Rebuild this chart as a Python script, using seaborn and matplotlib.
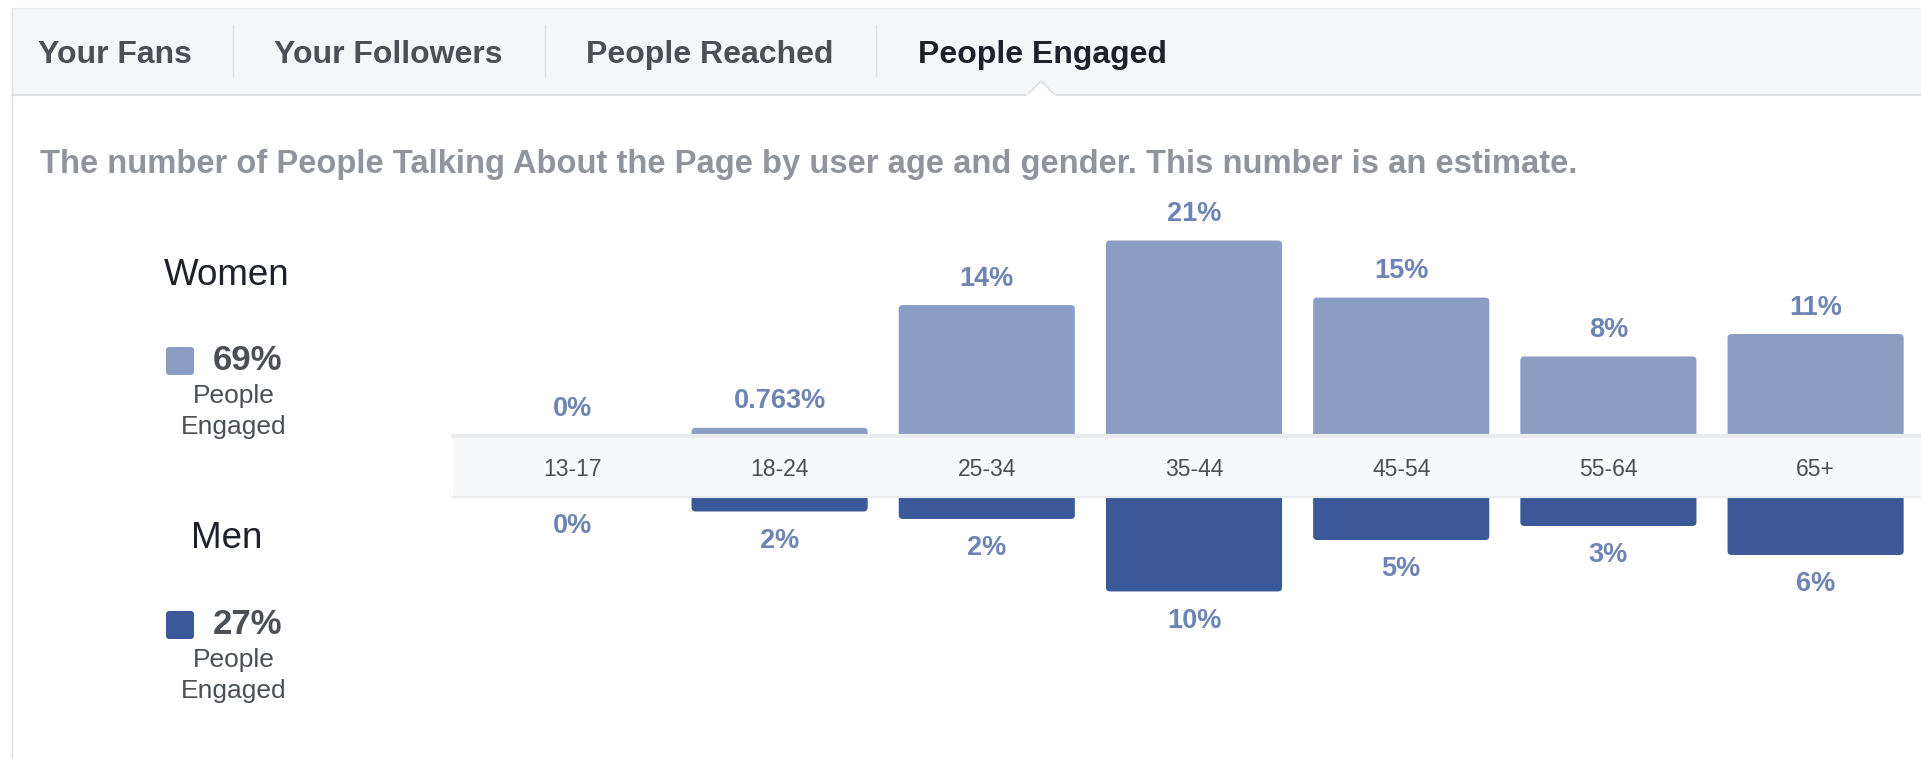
import matplotlib
matplotlib.use("Agg")
import matplotlib.pyplot as plt
import seaborn as sns
import pandas as pd
from matplotlib.patches import Rectangle, FancyBboxPatch, Polygon
from matplotlib.lines import Line2D
import matplotlib.transforms as mtransforms

# ---------------- data ----------------
age_groups = ["13-17", "18-24", "25-34", "35-44", "45-54", "55-64", "65+"]
women_pct = [0, 0.763, 13.9, 20.8, 14.7, 8.4, 10.8]
men_pct = [0, 1.55, 2.35, 10.1, 4.6, 3.1, 6.2]
women_total = "69%"
men_total = "27%"
tabs = ["Your Fans", "Your Followers", "People Reached", "People Engaged"]
subtitle = "The number of People Talking About the Page by user age and gender. This number is an estimate."

# ---------------- style ----------------
sns.set_theme(style="white")
plt.rcParams["font.family"] = ["Liberation Sans", "DejaVu Sans"]

W, H = 1921, 759
fig = plt.figure(figsize=(W / 100, H / 100), dpi=100)
fig.patch.set_facecolor("white")

WOMEN_C = "#8b9dc3"
MEN_C = "#3b5998"
LABEL_C = "#6d84b4"
DARK = "#1d2129"
GRAY = "#4b4f56"
BORDER = "#dddfe2"
TY = 4  # vertical text correction (px)


def fx(x):
    return x / W


def fy(y):
    return 1 - y / H


# ---------------- card chrome ----------------
fig.patches.append(Rectangle((fx(12), fy(95)), 1, (95 - 8) / H, transform=fig.transFigure,
                             facecolor="#f5f6f7", edgecolor="none", zorder=1))
fig.lines.append(Line2D([fx(12), 1], [fy(8), fy(8)], transform=fig.transFigure, color="#e9ebee", lw=1, zorder=2))
fig.lines.append(Line2D([fx(12), 1], [fy(95), fy(95)], transform=fig.transFigure, color=BORDER, lw=1.5, zorder=2))
fig.lines.append(Line2D([fx(12), fx(12)], [fy(8), 0], transform=fig.transFigure, color=BORDER, lw=1, zorder=2))
# caret under active tab
caret = Polygon([(fx(1026), fy(96)), (fx(1041), fy(81)), (fx(1056), fy(96))], closed=False,
                transform=fig.transFigure, facecolor="white", edgecolor=BORDER, lw=1.2, zorder=3)
fig.patches.append(caret)
fig.patches.append(Rectangle((fx(1027), fy(97)), fx(28), 2.5 / H, transform=fig.transFigure,
                             facecolor="white", edgecolor="none", zorder=4))

for sx in [233, 545, 876]:
    fig.lines.append(Line2D([fx(sx), fx(sx)], [fy(25), fy(76)], transform=fig.transFigure, color=BORDER, lw=1, zorder=2))

tab_x = [115, 388, 710, 1042]
for i, (t, x) in enumerate(zip(tabs, tab_x)):
    fig.text(fx(x), fy(51 + TY), t, ha="center", va="center", fontsize=23, fontweight="bold",
             color=DARK if i == len(tabs) - 1 else GRAY, zorder=5)

sub = fig.text(fx(40), fy(160 + TY), subtitle, ha="left", va="center", fontsize=19.5,
               fontweight="bold", color="#90949c")
# fit subtitle width to the reference span
r = fig.canvas.get_renderer()
wpx = sub.get_window_extent(r).width
sub.set_fontsize(19.5 * 1537 / wpx)

# ---------------- left legend panel ----------------
def legend_block(y0, title, color, total):
    fig.text(fx(227), fy(y0 + TY), title, ha="center", va="center", fontsize=26.5, color=DARK)
    fig.patches.append(FancyBboxPatch((fx(166), fy(y0 + 104)), fx(28), 28 / H,
                                      boxstyle="round,pad=0,rounding_size=0.0016",
                                      mutation_aspect=W / H,
                                      transform=fig.transFigure, facecolor=color, edgecolor="none"))
    fig.text(fx(213), fy(y0 + 87 + TY - 1), total, ha="left", va="center", fontsize=25, fontweight="bold", color=GRAY)
    fig.text(fx(234), fy(y0 + 121 + TY), "People", ha="center", va="center", fontsize=19, color=GRAY)
    fig.text(fx(234), fy(y0 + 152 + TY), "Engaged", ha="center", va="center", fontsize=19, color=GRAY)


legend_block(271, "Women", WOMEN_C, women_total)
legend_block(535, "Men", MEN_C, men_total)

# ---------------- chart axes ----------------
band_top, band_bot = 435, 497
x_left = 453
c0, step = 572.4, 207.2
px_per_pct = 9.35
xlim = (-(c0 - x_left) / step, (W - c0) / step)

top_h = band_top - 150
ax_top = fig.add_axes([fx(x_left), fy(band_top), 1 - fx(x_left), top_h / H])
bot_h = 745 - band_bot
ax_bot = fig.add_axes([fx(x_left), fy(745), 1 - fx(x_left), bot_h / H])

df = pd.DataFrame({"age": age_groups, "women": women_pct, "men": men_pct})
sns.barplot(data=df, x="age", y="women", order=age_groups, color=WOMEN_C, saturation=1,
            width=0.85, ax=ax_top)
sns.barplot(data=df, x="age", y="men", order=age_groups, color=MEN_C, saturation=1,
            width=0.85, ax=ax_bot)

ax_top.set_xlim(*xlim)
ax_top.set_ylim(0, top_h / px_per_pct)
ax_bot.set_xlim(*xlim)
ax_bot.set_ylim(bot_h / px_per_pct, 0)

rad_px = 4
for ax in [ax_top, ax_bot]:
    ax.set_axis_off()
    ux = (xlim[1] - xlim[0]) / ((1 - fx(x_left)) * W)  # data x per px
    uy = 1 / px_per_pct
    for p in list(ax.patches):
        x, w, h = p.get_x(), p.get_width(), p.get_height()
        if abs(h) <= 0:
            p.remove()
            continue
        ext = rad_px * uy
        fb = FancyBboxPatch((x, -ext), w, abs(h) + ext,
                            boxstyle=f"round,pad=0,rounding_size={rad_px * ux}",
                            mutation_aspect=uy / ux,
                            facecolor=p.get_facecolor(), edgecolor="none", clip_on=False)
        p.remove()
        ax.add_patch(fb)

for i, v in enumerate(women_pct):
    lab = f"{v:.3f}%" if 0 < v < 1 else f"{v:.0f}%"
    ax_top.annotate(lab, (i, v), xytext=(0, 19), textcoords="offset points", ha="center", va="center",
                    fontsize=19.5, fontweight="bold", color=LABEL_C, annotation_clip=False)
for i, v in enumerate(men_pct):
    lab = f"{v:.3f}%" if 0 < v < 1 else f"{v:.0f}%"
    ax_bot.annotate(lab, (i, v), xytext=(0, -21), textcoords="offset points", ha="center", va="center",
                    fontsize=19.5, fontweight="bold", color=LABEL_C, annotation_clip=False)

# axis band with age labels
fig.patches.append(Rectangle((fx(x_left), fy(band_bot)), 1, (band_bot - band_top) / H,
                             transform=fig.transFigure, facecolor="#f8f9fa", edgecolor="none", zorder=5))
fig.lines.append(Line2D([fx(x_left), 1], [fy(band_top + 1), fy(band_top + 1)], transform=fig.transFigure,
                        color="#eaebed", lw=3, zorder=6))
fig.lines.append(Line2D([fx(x_left), 1], [fy(band_bot), fy(band_bot)], transform=fig.transFigure,
                        color="#e9ebee", lw=1.5, zorder=6))
blend = mtransforms.blended_transform_factory(ax_top.transData, fig.transFigure)
for i, a in enumerate(age_groups):
    fig.text(0, 0, a, transform=blend, ha="center", va="center", fontsize=16.5, color=GRAY, zorder=7).set_position((i, fy(466 + TY)))

fig.savefig("out.png", dpi=100, facecolor="white")
